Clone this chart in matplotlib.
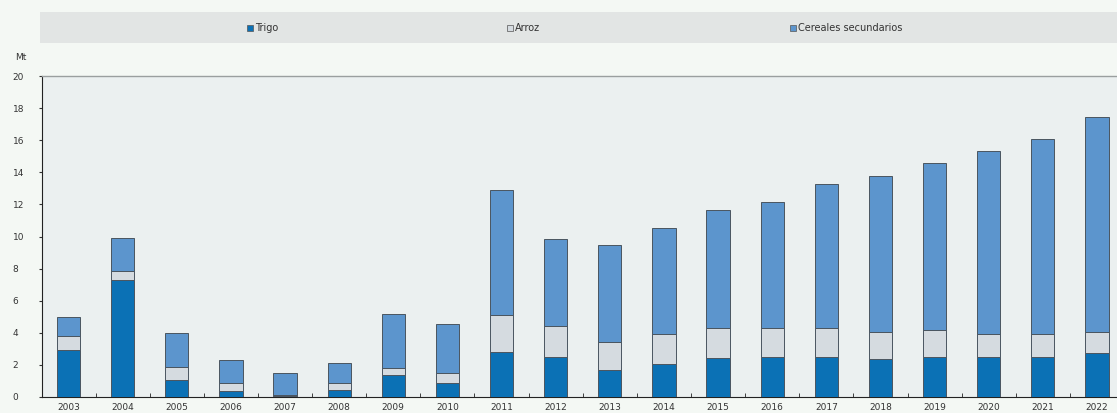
import numpy as np
import matplotlib.pyplot as plt
from matplotlib.patches import Rectangle

# datos (Mt)
years = ['2003', '2004', '2005', '2006', '2007', '2008', '2009', '2010', '2011', '2012',
         '2013', '2014', '2015', '2016', '2017', '2018', '2019', '2020', '2021', '2022']
trigo = [2.9, 7.3, 1.05, 0.4, 0.05, 0.45, 1.4, 0.9, 2.8, 2.5,
         1.7, 2.05, 2.4, 2.5, 2.5, 2.35, 2.5, 2.5, 2.5, 2.75]
arroz = [0.9, 0.55, 0.85, 0.5, 0.05, 0.4, 0.4, 0.6, 2.3, 1.9,
         1.7, 1.85, 1.9, 1.8, 1.8, 1.7, 1.65, 1.45, 1.45, 1.3]
totales = [5.0, 9.9, 4.0, 2.3, 1.5, 2.1, 5.2, 4.55, 12.9, 9.85,
           9.5, 10.5, 11.65, 12.15, 13.3, 13.8, 14.6, 15.3, 16.1, 17.45]
secundarios = [t - w - r for t, w, r in zip(totales, trigo, arroz)]

labels = ['Trigo', 'Arroz', 'Cereales secundarios']
colors = ['#0b71b5', '#d5dbe0', '#5c95cd']

W, H = 1117, 413
fig = plt.figure(figsize=(W / 100, H / 100), dpi=100)
fig.patch.set_facecolor('#f4f8f4')

# banda de leyenda
fig.patches.append(Rectangle((40 / W, 1 - 43 / H), 1 - 40 / W, 31 / H,
                             transform=fig.transFigure, facecolor='#e2e5e4',
                             edgecolor='none', zorder=0))
legend_x = [247, 507, 790]
for lx, lab, col in zip(legend_x, labels, colors):
    fig.patches.append(Rectangle((lx / W, 1 - 31 / H), 6 / W, 6 / H,
                                 transform=fig.transFigure, facecolor=col,
                                 edgecolor='#555555', linewidth=0.5, zorder=2))
    fig.text((lx + 8) / W, 1 - 28 / H, lab, fontsize=7, color='#333333',
             va='center', ha='left')

ax = fig.add_axes([42 / W, 1 - 397 / H, 1 - 42 / W, (397 - 76) / H])
ax.set_facecolor('#ebf0f0')

x = np.arange(len(years))
bw = 0.43
bottom = np.zeros(len(years))
for vals, col in zip([trigo, arroz, secundarios], colors):
    ax.bar(x, vals, bw, bottom=bottom, color=col, edgecolor='#4a5560',
           linewidth=0.7, zorder=3)
    bottom += np.array(vals)

ax.set_xlim(-0.49, 19.37)
ax.set_ylim(0, 20)
ax.set_yticks(np.arange(0, 21, 2))
ax.set_xticks(x)
ax.set_xticklabels(years)
ax.set_xticks(x[:-1] + 0.5, minor=True)
ax.tick_params(axis='x', which='major', length=0, labelsize=6.5, colors='#333333', pad=4)
ax.tick_params(axis='x', which='minor', length=3, direction='in', color='#222222')
ax.tick_params(axis='y', length=2, labelsize=6.5, colors='#333333', pad=19)
for lab in ax.get_yticklabels():
    lab.set_horizontalalignment('left')

ax.spines['right'].set_visible(False)
ax.spines['top'].set_color('#9a9f9f')
ax.spines['top'].set_linewidth(1.0)
ax.spines['left'].set_color('#222222')
ax.spines['bottom'].set_color('#222222')

fig.text(15 / W, 1 - 57 / H, 'Mt', fontsize=6.5, color='#333333', va='center', ha='left')

fig.savefig('out.png', dpi=100, facecolor=fig.get_facecolor())
